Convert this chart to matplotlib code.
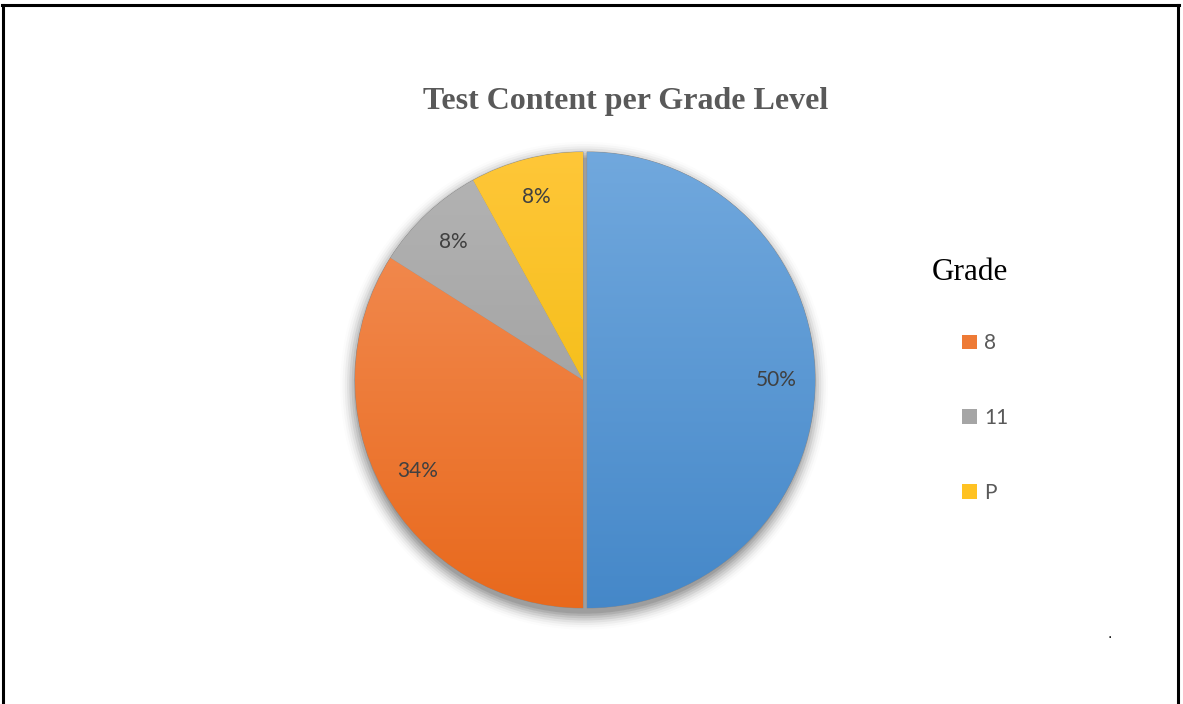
import numpy as np
import matplotlib.pyplot as plt
from matplotlib.colors import LinearSegmentedColormap
from matplotlib.patches import Patch, Circle
from matplotlib.lines import Line2D

# slice data (blue slice has no legend entry in the original)
categories = ['', '8', '11', 'P']
shares = [50, 34, 8, 8]
top_colors = ['#72a9de', '#f4925c', '#b5b5b5', '#ffc73a']
bottom_colors = ['#4487c8', '#e8681b', '#959595', '#edb800']
legend_colors = ['#ee7a35', '#a5a5a5', '#ffc222']

W, H = 1183, 704
fig = plt.figure(figsize=(W / 100, H / 100), dpi=100)

# pie axes: center at (583, 380) px, radius 228 px
cx, cy, rad = 583, 380, 228
span = 1.12
ax = fig.add_axes([(cx - span * rad) / W, 1 - (cy + span * rad) / H,
                   2 * span * rad / W, 2 * span * rad / H])

# soft shadow behind the pie
for r, a in zip(np.linspace(1.0, 1.07, 8), np.linspace(0.10, 0.01, 8)):
    ax.add_patch(Circle((0.005, -0.025), r, color='black', alpha=a, lw=0, zorder=0))

wedges, texts, autotexts = ax.pie(
    shares, startangle=90, counterclock=False, explode=[0.018, 0, 0, 0],
    autopct='%1.0f%%', pctdistance=0.83,
    wedgeprops=dict(linewidth=0.6, edgecolor='#8a8a8a'),
    textprops=dict(color='#404040', fontsize=15, family=['Lato', 'DejaVu Sans']))

grad = np.linspace(0, 1, 256).reshape(-1, 1)
for w, c0, c1 in zip(wedges, top_colors, bottom_colors):
    w.set_facecolor(c1)
    cmap = LinearSegmentedColormap.from_list('g', [c0, c1])
    im = ax.imshow(grad, cmap=cmap, extent=[-1.05, 1.05, -1.05, 1.05],
                   origin='upper', aspect='auto', zorder=1.5)
    im.set_clip_path(w)
for t in autotexts:
    t.set_zorder(3)

ax.set_xlim(-span, span)
ax.set_ylim(-span, span)
ax.set_aspect('equal')
ax.axis('off')

fig.text(626 / W, 1 - 102 / H, 'Test Content per Grade Level', ha='center', va='center',
         fontsize=23, fontweight='bold', color='#595959', family='Liberation Serif')

# legend title drawn separately so the entries can sit indented under it
fig.text(970 / W, 1 - 272 / H, 'Grade', ha='center', va='center',
         fontsize=22.5, color='black', family='Liberation Serif')

handles = [Patch(facecolor=c, edgecolor='none') for c in legend_colors]
leg = fig.legend(handles, categories[1:], loc='center left', bbox_to_anchor=(962 / W, 1 - 418 / H),
                 frameon=False, borderpad=0, borderaxespad=0, labelspacing=2.62,
                 handlelength=0.7, handleheight=0.7, handletextpad=0.35,
                 prop=dict(family=['Lato', 'DejaVu Sans'], size=15))
for t in leg.get_texts():
    t.set_color('#595959')

fig.text(1110 / W, 1 - 634 / H, '.', ha='center', va='center', fontsize=10, color='black')

# page frame (top, left, right)
for xs, ys in [([2 / W, 1179 / W], [1 - 5 / H, 1 - 5 / H]),
               ([3 / W, 3 / W], [0, 1 - 5 / H]),
               ([1178 / W, 1178 / W], [0, 1 - 5 / H])]:
    fig.add_artist(Line2D(xs, ys, color='black', lw=2.2))

fig.savefig('out.png', dpi=100, facecolor='white')
